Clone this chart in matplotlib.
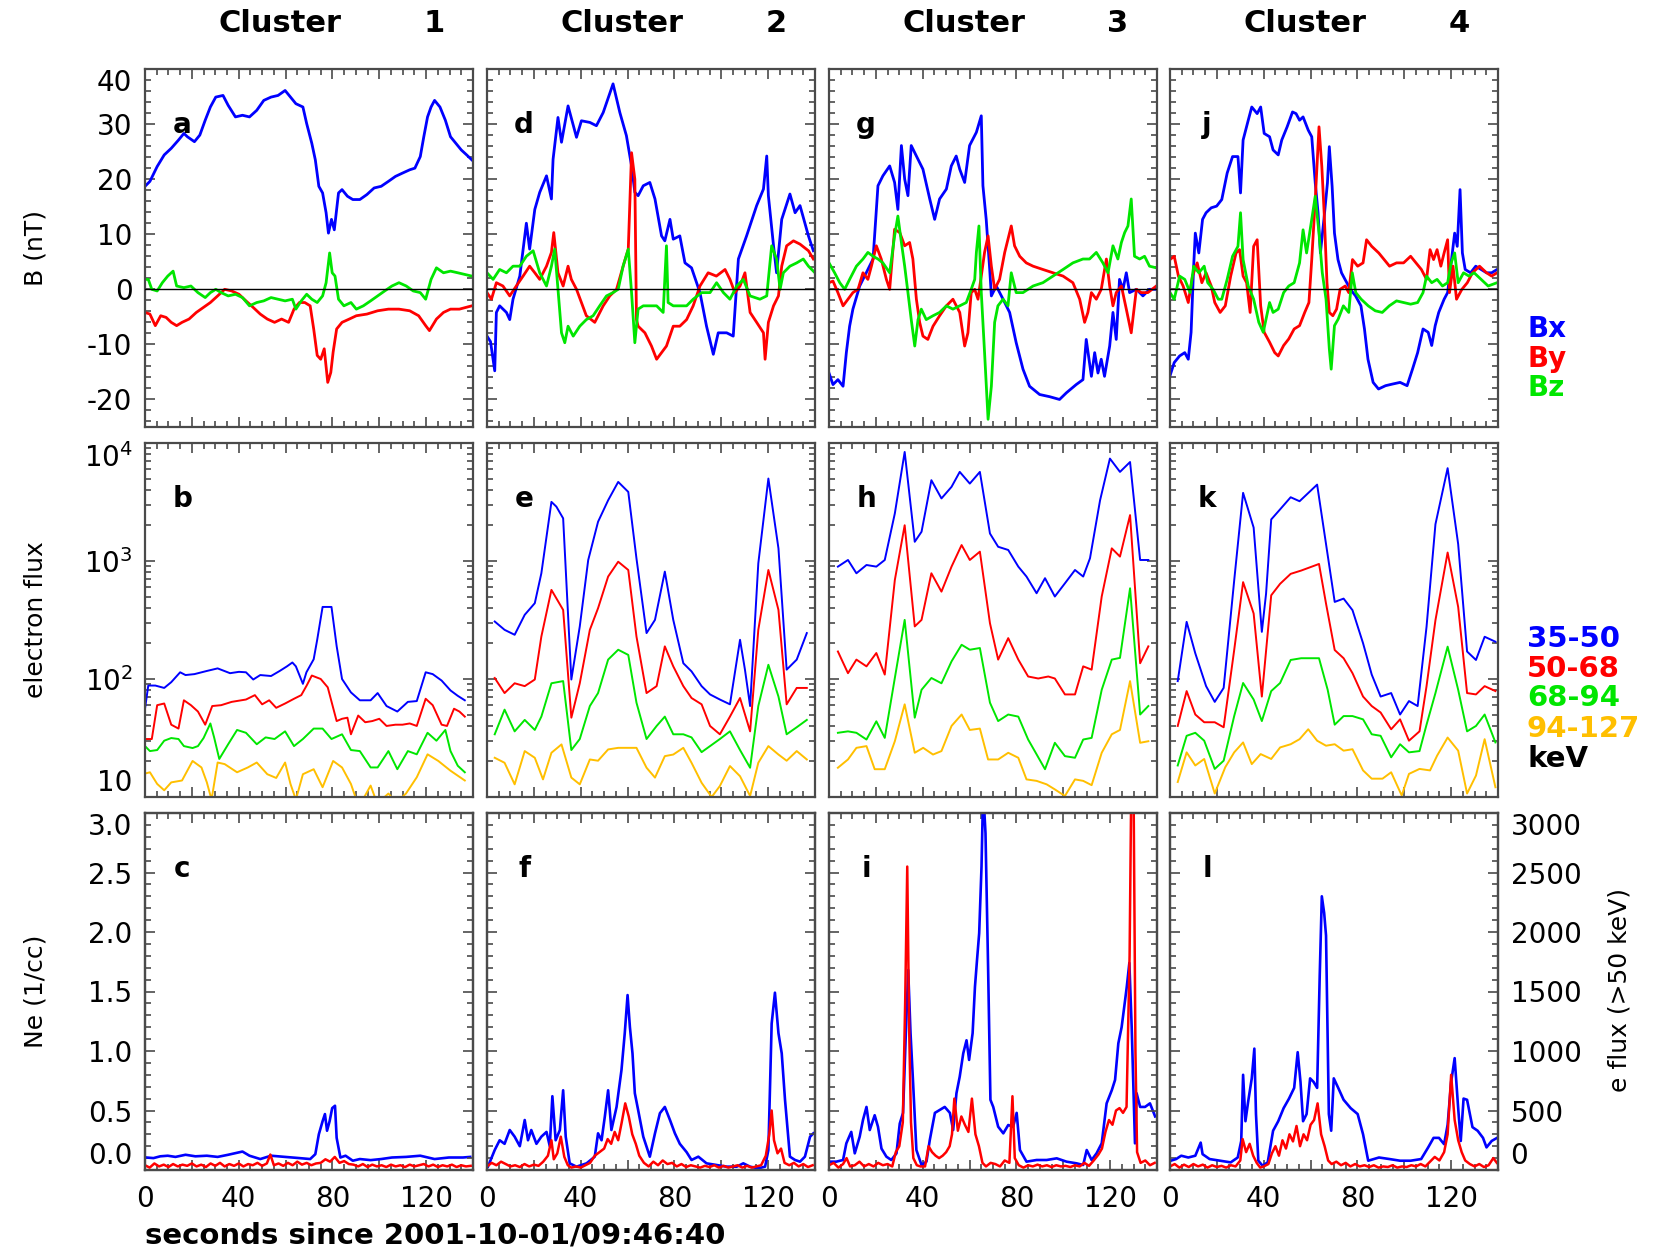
import matplotlib
matplotlib.use("Agg")
import matplotlib.pyplot as plt
from matplotlib.ticker import (MultipleLocator, FixedLocator, FixedFormatter,
                               LogLocator, NullFormatter, FuncFormatter,
                               FormatStrFormatter)

plt.rcParams['font.family'] = ['DejaVu Sans']
plt.rcParams['mathtext.fontset'] = 'dejavusans'

# ---------------------------------------------------------------- data
# time in seconds since 2001-10-01/09:46:40, values as (t, value) pairs

CLUSTERS = ['1', '2', '3', '4']
LETTERS = [['a', 'b', 'c'], ['d', 'e', 'f'], ['g', 'h', 'i'], ['j', 'k', 'l']]
B_NAMES = ['Bx', 'By', 'Bz']
ENERGY_BANDS = ['35-50', '50-68', '68-94', '94-127']

# --- magnetic field (nT)
BX_A = [(0, 18.7), (2.1, 19.6), (5.2, 22.3), (8.2, 24.4), (11.2, 25.6), (14.3, 27.1), (16.6, 28.3), (18.1, 27.7),
        (21.1, 26.8), (23.4, 28.0), (25.7, 30.7), (27.9, 33.1), (30.2, 34.9), (33.3, 35.2), (35.5, 33.4), (38.6, 31.3),
        (41.6, 31.6), (44.6, 31.3), (47.7, 32.5), (50.7, 34.3), (53.8, 34.9), (56.8, 35.2), (59.8, 36.1), (62.1, 34.9),
        (64.4, 33.7), (67.4, 33.1), (69.0, 30.1), (71.2, 26.5), (72.7, 23.5), (74.2, 18.7), (75.8, 17.5), (77.3, 13.9),
        (78.3, 10.2), (79.6, 12.7), (80.8, 10.8), (82.6, 17.5), (84.1, 18.1), (86.4, 16.9), (88.7, 16.3), (91.7, 16.3),
        (94.7, 17.2), (97.8, 18.4), (100.8, 18.7), (103.9, 19.6), (106.9, 20.5), (109.9, 21.1), (113.0, 21.7),
        (115.2, 22.0), (117.5, 24.1), (119.0, 27.7), (120.6, 31.3), (122.1, 33.1), (123.6, 34.3), (125.9, 33.1),
        (128.2, 30.7), (130.4, 27.7), (132.7, 26.5), (135.0, 25.3), (137.3, 24.4), (139.5, 23.5)]
BY_A = [(0, -4.2), (2.1, -4.5), (4.4, -6.6), (6.7, -4.8), (9.0, -5.1), (11.2, -6.0), (13.5, -6.6), (15.8, -6.0),
        (18.8, -5.4), (21.9, -4.2), (24.9, -3.3), (27.9, -2.4), (31.0, -1.2), (34.0, 0.0), (37.0, -0.3), (40.1, -0.9),
        (43.1, -2.1), (46.2, -3.3), (49.2, -4.5), (52.2, -5.4), (55.3, -6.0), (58.3, -5.4), (61.3, -6.0), (63.6, -3.6),
        (65.9, -2.4), (68.2, -2.4), (70.5, -3.0), (72.0, -7.2), (73.5, -12.0), (75.0, -12.7), (76.5, -10.8),
        (78.0, -16.9), (79.3, -15.1), (80.3, -11.4), (81.8, -7.2), (84.1, -6.0), (87.2, -5.4), (90.2, -4.8),
        (94.7, -4.5), (99.3, -3.9), (103.9, -3.6), (108.4, -3.6), (113.0, -3.9), (116.8, -4.8), (119.8, -6.6),
        (121.4, -7.5), (124.4, -5.4), (127.4, -4.2), (130.4, -3.6), (134.2, -3.6), (139.5, -3.0)]
BZ_A = [(0, 1.8), (1.4, 1.8), (2.9, 0.0), (5.2, -0.3), (7.4, 1.2), (9.7, 2.4), (12.0, 3.3), (13.5, 0.6), (16.6, 0.3),
        (19.6, 0.6), (22.6, -0.6), (25.7, -1.5), (27.9, -0.6), (30.2, 0.0), (32.5, -0.6), (35.5, -1.2), (38.6, -0.9),
        (41.6, -1.5), (44.6, -3.0), (47.7, -2.4), (50.7, -2.1), (53.8, -1.5), (56.8, -1.8), (59.8, -2.1), (62.9, -1.8),
        (64.4, -3.6), (66.7, -2.1), (69.0, -0.9), (71.2, -1.8), (73.5, -2.4), (75.8, -1.2), (77.3, 1.2), (78.8, 6.6),
        (79.9, 3.0), (81.1, 2.4), (82.6, -1.8), (84.9, -3.0), (87.9, -2.4), (90.2, -3.6), (93.2, -3.0), (96.3, -2.1),
        (99.3, -1.2), (102.3, -0.3), (105.4, 0.6), (108.4, 1.2), (111.5, 0.6), (114.5, -0.3), (117.5, -0.6),
        (119.8, -1.8), (122.1, 1.8), (124.4, 3.9), (127.4, 3.0), (130.4, 3.3), (133.5, 3.0), (136.5, 2.7), (139.5, 2.4)]

BX_D = [(0, -8.5), (1.5, -9.5), (3.3, -14.8), (4.0, -4.2), (5.4, -3.0), (8.3, -4.2), (9.7, -5.5), (11.1, -1.8),
        (14.0, 2.4), (16.8, 12.0), (18.2, 7.3), (20.4, 14.5), (22.5, 17.6), (25.4, 20.6), (27.5, 16.4), (28.2, 23.6),
        (30.3, 31.2), (31.8, 26.7), (34.6, 33.3), (38.2, 27.6), (40.3, 30.6), (43.9, 30.3), (46.7, 29.7), (49.6, 32.1),
        (53.8, 37.3), (56.7, 32.1), (59.5, 27.9), (61.7, 22.4), (63.1, 17.6), (64.5, 17.0), (66.7, 18.8), (69.5, 19.4),
        (71.7, 16.4), (74.5, 9.7), (75.9, 8.8), (78.1, 12.7), (79.5, 9.1), (82.3, 9.7), (84.5, 4.8), (87.3, 3.9),
        (90.9, -0.6), (93.7, -6.7), (96.6, -11.8), (98.7, -7.9), (102.3, -7.9), (105.1, -8.5), (107.3, 5.5),
        (110.8, 9.7), (115.1, 15.2), (118.0, 18.2), (119.4, 24.2), (120.1, 17.0), (122.3, 7.9), (123.6, 3.0),
        (125.8, 12.7), (129.3, 17.3), (131.5, 13.9), (133.6, 15.2), (137.2, 9.7), (139.3, 7.0)]
BY_D = [(0, -0.6), (1.9, -1.8), (4.0, 1.2), (6.8, 0.6), (9.7, -1.2), (12.5, 0.6), (15.4, 2.4), (18.2, 4.2),
        (20.4, 3.0), (22.5, 1.8), (25.4, 4.2), (27.5, 6.7), (28.5, 10.3), (30.3, 3.0), (32.5, 0.6), (34.6, 4.2),
        (36.0, 1.8), (38.2, 0.0), (40.3, -2.4), (42.4, -4.8), (46.0, -6.0), (49.6, -3.0), (52.4, -1.2), (55.3, 0.0),
        (58.1, 4.2), (60.3, 7.3), (61.7, 24.8), (63.1, 20.0), (63.8, -5.5), (64.5, -6.7), (67.4, -7.9), (70.2, -10.3),
        (72.4, -12.7), (74.5, -11.5), (76.6, -10.3), (79.5, -6.7), (82.3, -6.7), (85.2, -5.5), (88.0, -3.0),
        (90.9, 0.6), (94.4, 3.0), (97.9, 2.4), (101.6, 3.6), (103.7, 1.8), (105.8, -0.6), (108.0, 0.6), (110.1, 3.0),
        (112.3, -4.2), (115.1, -6.0), (118.0, -7.9), (118.7, -12.7), (120.1, -6.0), (122.3, -3.0), (124.4, -1.2),
        (125.8, 4.2), (127.9, 7.9), (130.8, 8.8), (133.6, 8.2), (137.2, 7.0), (139.3, 5.5)]
BZ_D = [(0, 3.0), (2.6, 1.8), (5.4, 3.6), (8.3, 3.0), (11.1, 4.2), (14.0, 4.2), (16.8, 6.0), (19.7, 7.0), (22.5, 3.0),
        (25.4, 0.6), (27.5, 4.2), (28.9, 7.3), (30.3, 0.0), (31.8, -7.9), (33.2, -9.7), (34.6, -6.7), (36.8, -8.5),
        (39.6, -6.7), (42.4, -5.5), (45.3, -4.8), (48.1, -3.0), (51.0, -1.2), (53.8, -0.6), (56.0, 0.0), (58.1, 4.2),
        (60.3, 7.3), (61.7, -0.6), (63.1, -9.7), (64.5, -3.6), (66.7, -3.0), (69.5, -3.0), (72.4, -3.0), (75.2, -4.2),
        (76.6, 7.9), (77.3, -2.4), (79.5, -3.0), (82.3, -3.0), (85.2, -3.0), (88.0, -1.8), (91.6, -0.6), (95.2, -0.6),
        (98.0, 1.2), (100.9, -0.6), (103.7, -1.8), (106.6, 0.6), (109.4, 1.8), (112.3, -1.2), (116.5, -1.8),
        (119.4, -1.2), (121.5, 7.9), (123.6, 5.5), (125.1, 0.0), (126.5, 3.0), (129.3, 4.2), (132.2, 4.8),
        (135.0, 5.5), (137.2, 4.2), (140.0, 3.0)]

BX_G = [(0, -15.2), (1.7, -17.3), (3.8, -16.4), (6.0, -17.6), (7.4, -11.5), (8.8, -6.7), (10.2, -3.6), (13.1, 0.6),
        (15.9, 3.0), (18.8, 5.5), (20.9, 18.8), (23.0, 20.6), (25.9, 22.4), (28.0, 19.4), (29.4, 14.5), (30.9, 26.1),
        (32.3, 20.0), (33.7, 17.0), (35.1, 26.1), (37.3, 24.2), (40.1, 21.8), (43.0, 16.4), (45.1, 12.7), (47.2, 16.4),
        (50.1, 18.2), (52.2, 22.4), (54.3, 24.2), (55.8, 21.8), (57.9, 19.4), (60.0, 26.1), (62.9, 28.5), (65.0, 31.5),
        (65.7, 18.8), (67.1, 12.7), (68.6, 3.6), (69.3, -1.2), (71.4, 0.6), (74.3, -1.8), (77.1, -4.2), (79.9, -9.7),
        (82.8, -14.5), (85.6, -17.6), (89.9, -19.1), (94.2, -19.5), (98.4, -20.0), (101.3, -18.8), (105.5, -17.3),
        (108.4, -16.4), (109.8, -9.1), (112.0, -15.8), (113.4, -11.5), (114.8, -15.2), (116.2, -12.7),
        (117.6, -15.8), (119.8, -10.3), (121.2, -4.2), (122.6, -9.1), (124.0, 1.8), (125.5, 0.0), (126.9, 3.0),
        (128.3, -0.6), (131.2, 0.0), (134.0, -1.2), (136.8, 0.0), (139.7, 0.0)]
BY_G = [(0, 1.2), (1.7, 1.5), (3.8, -0.6), (6.0, -3.0), (8.1, -1.8), (10.2, -0.6), (12.4, 0.0), (14.5, 3.0),
        (16.6, 1.8), (18.1, 4.2), (20.2, 7.9), (22.3, 5.5), (24.5, 1.8), (25.9, 0.0), (28.0, 10.9), (30.2, 10.3),
        (32.3, 7.9), (34.4, 8.5), (35.8, 5.5), (37.3, -1.8), (38.7, -6.0), (40.1, -8.5), (42.2, -9.1), (44.4, -6.7),
        (47.2, -4.8), (50.1, -3.0), (52.9, -1.8), (55.8, -4.2), (57.9, -10.3), (59.3, -7.9), (60.7, -0.6),
        (62.2, 0.0), (63.6, -1.8), (65.0, 2.4), (66.4, 6.7), (67.9, 9.7), (69.3, 4.2), (70.7, 0.0), (72.8, 1.8),
        (75.0, 6.7), (77.8, 11.5), (79.2, 7.9), (81.4, 6.0), (84.2, 4.8), (87.1, 4.2), (91.3, 3.6), (95.6, 3.0),
        (99.9, 2.4), (104.1, 1.2), (107.0, -1.8), (109.1, -6.0), (110.5, -4.2), (112.0, -0.6), (114.1, -1.8),
        (116.2, 0.0), (118.4, 5.5), (119.8, 0.6), (121.2, -3.0), (122.6, -0.6), (124.8, 0.6), (126.9, -3.6),
        (129.0, -7.9), (131.2, 0.0), (133.3, -0.6), (136.1, -0.6), (139.7, 0.6)]
BZ_G = [(0, 4.8), (2.4, 3.0), (4.6, 1.2), (6.7, 0.0), (8.8, 1.8), (11.7, 4.2), (14.5, 5.5), (16.6, 6.7), (18.8, 6.0),
        (20.9, 5.5), (23.0, 4.8), (25.9, 3.0), (28.0, 9.7), (29.4, 13.3), (30.9, 8.5), (32.3, 4.2), (33.7, -0.6),
        (35.1, -5.5), (36.6, -10.3), (38.0, -5.5), (39.4, -3.6), (41.5, -5.5), (44.4, -4.8), (47.2, -4.2),
        (50.1, -3.0), (52.9, -3.6), (55.8, -3.0), (58.6, -2.4), (60.7, 0.0), (62.2, 1.8), (62.9, 6.7), (64.0, 11.5),
        (65.0, -0.6), (66.4, -11.5), (67.9, -23.6), (69.3, -17.6), (70.7, -6.0), (72.1, -3.0), (74.3, -1.8),
        (76.4, -3.0), (77.8, 3.0), (79.9, -0.6), (82.8, -0.6), (87.1, 0.6), (91.3, 1.2), (95.6, 2.4), (99.9, 3.6),
        (104.1, 4.8), (108.4, 5.5), (111.2, 5.5), (114.1, 6.7), (116.9, 4.8), (119.1, 3.0), (121.2, 7.9),
        (123.3, 5.5), (124.8, 8.5), (126.2, 10.3), (127.6, 11.5), (129.0, 16.4), (130.4, 6.0), (132.6, 5.5),
        (134.7, 6.0), (136.8, 4.2), (139.7, 3.9)]

BX_J = [(0, -15.7), (1.8, -13.3), (4.1, -12.1), (6.3, -11.5), (7.8, -12.7), (9.0, -7.8), (10.1, 4.2), (10.8, 10.2),
        (12.3, 6.6), (13.9, 12.7), (15.4, 13.9), (17.6, 14.8), (19.9, 15.1), (22.1, 16.3), (24.4, 21.1), (26.7, 24.1),
        (29.0, 24.1), (30.1, 17.5), (31.2, 27.1), (33.4, 30.7), (34.9, 33.1), (37.2, 31.9), (38.7, 33.1), (40.2, 28.3),
        (42.5, 27.7), (44.0, 25.3), (46.2, 24.4), (47.7, 27.1), (50.0, 29.5), (52.3, 32.2), (53.8, 31.9), (55.3, 30.7),
        (56.8, 31.3), (59.0, 28.9), (60.5, 27.7), (62.0, 19.3), (63.2, 13.9), (64.2, 6.6), (65.7, 12.7), (67.2, 19.3),
        (68.0, 25.9), (69.2, 18.7), (70.2, 10.2), (71.7, 5.4), (73.2, 3.0), (74.7, 1.8), (77.0, 0.0), (79.2, -1.2),
        (81.5, -3.0), (83.0, -7.2), (84.5, -12.7), (86.7, -16.9), (89.0, -18.1), (92.0, -17.5), (95.0, -17.2),
        (98.2, -16.9), (101.2, -17.5), (103.5, -14.5), (105.7, -11.5), (108.0, -7.2), (110.2, -7.8), (111.7, -10.2),
        (113.2, -6.6), (114.7, -4.2), (117.0, -1.8), (118.5, -0.6), (120.0, 4.8), (121.5, 10.2), (122.6, 7.8),
        (123.8, 18.1), (124.8, 6.6), (126.0, 3.6), (128.3, 3.0), (130.5, 4.2), (132.8, 3.6), (135.1, 3.0),
        (137.3, 3.0), (139.6, 3.6)]
BY_J = [(0, 5.4), (1.8, 6.0), (3.6, 2.4), (5.6, 0.6), (7.8, -2.4), (9.6, 2.4), (11.6, 4.8), (13.6, 1.2), (15.4, 3.0),
        (17.6, 0.6), (19.1, -2.4), (21.4, -4.2), (23.6, -3.0), (25.9, 2.4), (28.2, 6.6), (29.7, 7.2), (31.2, 2.4),
        (32.7, 1.2), (34.2, -4.2), (35.7, 7.8), (37.2, 9.0), (38.7, -3.0), (40.2, -7.8), (42.5, -9.6), (44.7, -11.5),
        (46.2, -12.1), (48.5, -10.2), (50.7, -9.0), (53.0, -7.2), (55.3, -6.6), (57.5, -4.2), (59.3, -2.4),
        (60.5, 5.4), (62.0, 16.3), (63.6, 29.5), (64.8, 22.3), (65.8, 13.9), (67.0, 1.2), (68.0, -4.2), (69.5, -4.8),
        (71.1, -3.6), (72.6, 0.0), (74.8, 0.6), (76.3, -0.6), (77.9, 5.4), (80.1, 4.2), (82.4, 4.8), (83.9, 9.0),
        (86.1, 7.8), (89.1, 6.6), (91.4, 5.4), (93.7, 4.2), (96.7, 4.8), (99.7, 4.8), (102.7, 6.0), (105.0, 4.8),
        (107.3, 3.6), (109.5, 1.8), (111.0, 7.2), (112.5, 5.4), (114.0, 7.2), (115.6, 4.2), (117.0, 6.6),
        (118.5, 9.0), (119.3, -0.6), (120.8, 4.2), (122.3, -1.8), (124.6, 0.0), (126.9, 1.2), (129.1, 3.0),
        (132.1, 4.2), (135.1, 3.0), (137.3, 2.4), (139.6, 3.0)]
BZ_J = [(0, -0.6), (1.8, -1.8), (4.1, 2.4), (6.3, 1.8), (8.6, -0.6), (10.1, 4.2), (12.3, 3.0), (14.6, 4.2),
        (16.1, 1.2), (18.4, 0.0), (20.6, -1.8), (22.1, -1.8), (24.4, 1.8), (26.7, 6.0), (29.0, 7.8), (30.1, 13.9),
        (31.2, 5.4), (33.4, 0.6), (35.7, -1.8), (37.9, -6.0), (39.8, -7.8), (41.0, -5.4), (42.5, -2.4), (44.0, -4.2),
        (46.2, -3.6), (48.5, -0.6), (50.7, 0.6), (53.0, 1.2), (55.3, 4.8), (56.8, 10.8), (58.3, 6.6), (60.5, 12.7),
        (62.0, 16.9), (63.6, 10.2), (65.0, 3.0), (66.6, -1.8), (68.0, -10.8), (68.8, -14.5), (70.2, -6.6),
        (71.8, -5.4), (74.0, -3.0), (76.3, -4.2), (77.8, 3.0), (79.3, -0.6), (81.6, -1.8), (84.6, -3.0),
        (87.6, -3.9), (90.6, -4.2), (93.6, -3.0), (96.7, -2.1), (99.7, -2.4), (102.7, -2.7), (105.7, -2.4),
        (108.0, -0.6), (109.5, 2.4), (111.7, 1.2), (114.0, 1.8), (116.3, 0.6), (118.5, 1.2), (120.0, 4.8),
        (121.5, 6.6), (123.0, 1.2), (125.3, 3.0), (127.6, 2.4), (129.8, 3.0), (132.8, 1.8), (135.8, 0.6),
        (139.6, 1.2)]

# --- electron flux per energy band (35-50, 50-68, 68-94, 94-127 keV)
E1_B = [(0, 56), (1.4, 88), (4.4, 88), (8.2, 84), (11.2, 94), (15.0, 114), (17.3, 108), (21.1, 110), (26.4, 117),
        (31.0, 123), (36.3, 112), (40.1, 115), (43.1, 114), (46.2, 99), (49.2, 108), (53.8, 106), (57.5, 117),
        (60.6, 128), (62.9, 138), (64.4, 128), (67.4, 91), (68.9, 114), (72.0, 147), (73.5, 215), (75.8, 408),
        (79.6, 408), (81.8, 190), (84.1, 100), (87.9, 77), (91.7, 66), (96.3, 66), (99.3, 76), (103.1, 59),
        (107.7, 53), (112.2, 64), (116.0, 65), (119.8, 114), (122.8, 110), (126.6, 97), (130.4, 80), (133.5, 72),
        (136.5, 66)]
E2_B = [(0, 31), (2.9, 31), (5.2, 60), (8.2, 62), (11.2, 41), (14.3, 38), (16.6, 66), (19.6, 60), (22.6, 53),
        (25.7, 41), (28.7, 59), (32.5, 60), (37.0, 64), (43.1, 67), (46.9, 73), (50.0, 61), (53.0, 66), (56.0, 57),
        (59.8, 62), (63.6, 68), (66.7, 73), (69.0, 88), (71.2, 107), (75.0, 100), (78.0, 85), (81.8, 44), (84.1, 46),
        (86.4, 47), (87.9, 34), (91.0, 49), (94.0, 43), (97.0, 44), (100.0, 46), (103.1, 40), (106.9, 41),
        (109.9, 41), (113.0, 42), (116.0, 40), (119.8, 68), (122.8, 60), (126.6, 41), (128.9, 40), (131.9, 56),
        (134.2, 53), (136.5, 48)]
E3_B = [(0, 27), (2.1, 24.5), (5.2, 25), (8.2, 30), (11.2, 31.6), (14.3, 31), (16.6, 27), (20.3, 26), (22.6, 27),
        (25.0, 31.6), (27.9, 42), (29.5, 32), (31.7, 21), (35.5, 28), (39.3, 37), (43.1, 35), (47.7, 28), (51.5, 32),
        (55.3, 31), (59.8, 36), (63.6, 27), (67.4, 31), (72.0, 38), (75.8, 38), (79.6, 31), (84.1, 34), (87.9, 25),
        (91.7, 24.5), (96.3, 17.8), (99.3, 17.8), (103.9, 24.5), (107.7, 17.2), (112.2, 24.5), (116.0, 23),
        (120.6, 35), (124.4, 30), (128.2, 37), (130.4, 24.5), (133.5, 18.4), (136.5, 16.2)]
E4_B = [(0, 15.8), (2.1, 16.2), (5.2, 12.9), (8.2, 11.4), (11.2, 13.3), (15.8, 13.8), (20.3, 20.2), (24.1, 17.8),
        (26.4, 13.3), (28.4, 9.5), (31.0, 19.6), (34.0, 19.0), (39.3, 16.2), (43.9, 17.8), (47.7, 19.6), (52.2, 15.6),
        (56.0, 14.5), (59.8, 19.6), (62.1, 12.9), (64.4, 9.5), (67.4, 15.6), (72.0, 17.2), (75.8, 12.1), (80.3, 20.2),
        (84.1, 17.8), (87.9, 12.9), (90.2, 9.5), (93.0, 9.5), (96.3, 12.5), (98.5, 9.5), (101.0, 9.5), (103.9, 10.7),
        (106.1, 9.5), (108.5, 9.5), (111.4, 10.7), (116.0, 14.7), (120.6, 23), (125.2, 20.2), (130.4, 16.7),
        (136.5, 13.8)]

E1_E = [(3.3, 307), (7.5, 261), (11.8, 237), (16.1, 350), (20.4, 439), (23.2, 787), (27.5, 3170), (29.6, 2890),
        (32.5, 2300), (36.0, 99), (39.6, 279), (43.2, 1019), (47.4, 2150), (51.7, 3270), (56.0, 4680), (60.3, 3850),
        (63.8, 1050), (68.1, 245), (71.7, 317), (75.9, 813), (79.5, 317), (83.8, 136), (87.3, 116), (91.6, 87),
        (95.2, 74), (99.4, 67), (103.7, 61), (108.0, 215), (110.1, 120), (112.3, 59), (115.8, 955), (120.1, 5000),
        (124.4, 1280), (127.9, 120), (132.2, 146), (136.5, 245)]
E2_E = [(3.3, 102), (7.5, 76), (11.8, 92), (16.1, 87), (20.4, 99), (23.2, 229), (27.5, 569), (32.5, 385), (36.0, 47),
        (39.6, 92), (43.9, 261), (47.4, 398), (51.7, 738), (56.0, 986), (60.3, 839), (63.8, 229), (68.1, 76),
        (72.4, 87), (75.9, 189), (79.5, 128), (83.8, 87), (87.3, 69), (91.6, 61), (95.2, 40), (99.4, 34), (103.7, 48),
        (108.0, 69), (112.3, 36), (115.8, 261), (120.1, 839), (124.4, 385), (127.9, 61), (132.2, 84), (136.5, 84)]
E3_E = [(3.3, 34), (7.5, 55), (11.8, 36), (16.1, 45), (20.4, 37), (23.2, 48), (27.5, 92), (32.5, 96), (36.0, 25),
        (39.6, 31), (43.9, 59), (47.4, 76), (51.7, 146), (56.0, 177), (60.3, 160), (63.8, 63), (68.1, 31), (72.4, 40),
        (75.9, 48), (79.5, 34), (83.8, 34), (87.3, 32), (91.6, 24), (95.2, 27), (99.4, 31), (103.7, 36), (108.0, 25),
        (112.3, 17.7), (115.8, 59), (120.1, 132), (124.4, 71), (127.9, 34), (132.2, 39), (136.5, 45)]
E4_E = [(3.3, 21.5), (7.5, 19.5), (11.8, 12.8), (16.1, 24.5), (20.4, 21.5), (23.9, 14.1), (27.5, 23.7), (31.8, 27.9),
        (36.0, 14.6), (39.6, 12.8), (43.9, 20.8), (47.4, 20.3), (51.7, 25.3), (56.0, 26.1), (60.3, 26.1),
        (63.8, 26.1), (68.1, 17.7), (71.7, 14.6), (75.9, 22.2), (79.5, 22.9), (83.8, 26.1), (87.3, 19.5),
        (91.6, 13.2), (95.9, 10.0), (99.4, 12.4), (103.7, 18.3), (108.0, 15.0), (112.3, 10.2), (115.8, 19.5),
        (120.1, 27.0), (124.4, 22.9), (127.9, 20.3), (132.2, 24.5), (136.5, 20.8)]

E1_H = [(3.8, 896), (8.1, 1020), (11.7, 787), (16.0, 925), (20.2, 896), (23.8, 1020), (28.1, 2530), (32.3, 8400),
        (36.6, 1455), (39.5, 1770), (43.7, 4840), (48.0, 3390), (52.3, 4250), (55.8, 5690), (60.1, 4530),
        (64.4, 5690), (68.7, 1710), (72.2, 1320), (76.5, 1240), (80.8, 896), (84.3, 738), (88.6, 533), (92.2, 715),
        (96.4, 500), (100.7, 647), (105.0, 839), (108.5, 738), (111.4, 1055), (115.7, 3270), (119.9, 7380),
        (124.2, 5690), (128.5, 6900), (132.8, 1020), (136.3, 1020)]
E2_H = [(3.8, 171), (8.1, 112), (11.7, 146), (16.0, 128), (20.2, 166), (23.8, 109), (28.1, 690), (32.3, 2010),
        (36.6, 279), (39.5, 317), (43.7, 787), (48.0, 550), (52.3, 896), (56.6, 1365), (60.1, 1020), (64.4, 1200),
        (68.7, 297), (72.2, 146), (76.5, 222), (80.8, 146), (85.0, 105), (89.3, 101), (93.6, 105), (96.4, 101),
        (100.7, 74), (105.0, 74), (108.5, 128), (112.1, 120), (116.4, 500), (120.7, 1280), (124.2, 1090),
        (128.5, 2450), (132.8, 136), (136.3, 189)]
E3_H = [(3.8, 35), (8.1, 36), (11.7, 35), (16.0, 30.7), (20.2, 43.8), (23.8, 31.7), (28.1, 102), (32.3, 317),
        (36.6, 47), (39.5, 81), (43.7, 102), (48.0, 92), (52.3, 141), (56.6, 195), (60.1, 177), (64.4, 183),
        (68.7, 63), (72.2, 44), (76.5, 50), (80.8, 48), (85.0, 30.7), (88.6, 23), (92.2, 17.2), (96.4, 28.8),
        (100.7, 22.2), (105.0, 21.5), (108.5, 30.7), (112.1, 31.7), (116.4, 81), (120.7, 146), (124.2, 151),
        (128.5, 587), (132.8, 50), (136.3, 59)]
E4_H = [(3.8, 17.7), (8.1, 20.8), (11.7, 26.1), (16.0, 27.0), (19.5, 17.2), (23.8, 17.2), (28.1, 29.7), (32.3, 61),
        (36.6, 23.7), (40.2, 26.1), (44.4, 22.9), (48.0, 24.5), (52.3, 40), (56.6, 50), (60.1, 37), (64.4, 38),
        (67.9, 20.8), (72.2, 20.8), (76.5, 23.7), (80.8, 21.5), (84.3, 14.1), (88.6, 13.7), (92.9, 12.8),
        (96.4, 11.6), (100.7, 10.2), (105.0, 14.1), (108.5, 13.7), (112.1, 12.6), (116.4, 23.7), (120.7, 34),
        (124.2, 37), (128.5, 96), (132.8, 28.8), (136.3, 29.7)]

E1_K = [(3.3, 96), (7.1, 305), (10.8, 165), (15.4, 87), (19.1, 64), (22.9, 84), (27.4, 684), (31.2, 3780),
        (35.7, 1920), (39.2, 251), (41.0, 528), (43.2, 2250), (47.0, 2740), (51.5, 3470), (55.3, 3210), (59.8, 3900),
        (62.8, 4440), (66.6, 1390), (70.3, 450), (74.1, 480), (77.9, 383), (82.4, 201), (86.1, 109), (89.9, 71),
        (94.4, 76), (98.2, 50), (102.0, 65), (105.7, 59), (109.5, 277), (113.3, 2050), (118.5, 6120), (123.0, 1390),
        (126.8, 171), (130.6, 145), (134.3, 228), (138.9, 207)]
E2_K = [(3.3, 40), (7.1, 79), (10.8, 50), (14.6, 43), (19.1, 43), (22.9, 39), (27.4, 176), (31.2, 662), (35.7, 359),
        (39.2, 71), (43.2, 512), (47.0, 641), (51.5, 778), (56.0, 830), (59.8, 885), (63.6, 944), (66.6, 435),
        (70.3, 176), (74.1, 150), (77.9, 112), (82.4, 71), (86.1, 59), (89.9, 52), (94.4, 37.5), (98.2, 45.5),
        (102.0, 30), (106.5, 36), (109.5, 87), (113.3, 315), (118.5, 1180), (123.0, 408), (126.8, 76), (130.6, 74),
        (134.3, 87), (138.9, 79)]
E3_K = [(3.3, 18.5), (7.1, 33), (10.8, 35), (14.6, 30), (19.1, 17.3), (22.9, 20.3), (27.4, 48.5), (31.2, 92.5),
        (35.7, 67), (39.2, 44), (43.2, 79), (47.0, 92.5), (51.5, 145), (56.0, 150), (59.8, 150), (63.6, 150),
        (67.3, 81), (70.3, 41), (74.1, 48.5), (77.9, 48.5), (82.4, 45.5), (86.1, 34), (89.9, 33), (94.4, 21.7),
        (98.2, 28), (102.0, 23.9), (106.5, 24.5), (109.5, 41), (113.3, 76), (118.5, 188), (123.0, 81), (126.8, 36),
        (130.6, 40), (134.3, 50), (138.9, 29)]
E4_K = [(3.3, 13.4), (7.1, 23.9), (10.8, 18.5), (14.6, 21), (19.1, 10.7), (23.6, 17.9), (27.4, 23.9), (31.2, 29),
        (34.9, 19), (38.7, 23.1), (43.2, 21), (47.0, 26.3), (51.5, 28), (55.3, 30.9), (59.0, 37.5), (62.8, 30),
        (66.6, 27.2), (70.3, 28), (74.1, 24.7), (77.9, 25.4), (82.4, 16.8), (86.1, 14.3), (90.7, 14.3), (94.4, 16.2),
        (98.9, 10.3), (102.0, 15.7), (106.5, 17.3), (111.0, 16.8), (114.0, 22.4), (118.5, 31.9), (123.0, 24.7),
        (126.8, 10.7), (130.6, 15.2), (134.3, 30.9), (138.9, 12.1)]

# --- electron density Ne (1/cc)
NE_C = [(0.6, 0.105), (3.6, 0.10), (6.5, 0.115), (9.7, 0.12), (13.0, 0.11), (17.3, 0.128), (21.5, 0.115),
        (26.4, 0.12), (31.0, 0.11), (35.5, 0.128), (41.6, 0.155), (44.6, 0.12), (49.2, 0.092), (53.8, 0.12),
        (59.8, 0.11), (65.9, 0.10), (70.5, 0.092), (72.7, 0.133), (74.2, 0.30), (75.8, 0.41), (76.8, 0.47),
        (77.7, 0.33), (78.8, 0.41), (79.9, 0.52), (81.1, 0.54), (81.8, 0.27), (83.4, 0.105), (85.6, 0.12),
        (88.7, 0.078), (91.7, 0.092), (96.3, 0.083), (100.8, 0.092), (105.4, 0.105), (111.4, 0.11), (117.5, 0.12),
        (123.6, 0.092), (129.7, 0.105), (135.7, 0.105), (138.8, 0.11)]
NE_F = [(0.4, 0.028), (3.3, 0.168), (5.4, 0.25), (7.5, 0.22), (9.7, 0.336), (11.8, 0.28), (14.0, 0.20), (16.1, 0.42),
        (17.5, 0.25), (18.9, 0.336), (21.1, 0.22), (23.2, 0.28), (25.4, 0.32), (26.8, 0.20), (27.9, 0.62),
        (29.3, 0.25), (31.1, 0.336), (32.5, 0.67), (33.6, 0.28), (35.3, 0.056), (38.2, 0.028), (42.5, 0.056),
        (46.0, 0.112), (47.4, 0.308), (48.9, 0.25), (50.3, 0.45), (51.7, 0.67), (53.1, 0.336), (55.3, 0.53),
        (57.4, 0.84), (58.8, 1.15), (60.0, 1.47), (61.0, 1.20), (62.1, 0.98), (63.1, 0.645), (64.5, 0.505),
        (66.7, 0.28), (69.5, 0.112), (71.7, 0.308), (73.8, 0.477), (75.9, 0.53), (78.1, 0.42), (80.2, 0.308),
        (82.3, 0.22), (85.2, 0.15), (87.3, 0.084), (90.2, 0.112), (93.7, 0.056), (98.0, 0.042), (102.3, 0.028),
        (106.6, 0.028), (109.4, 0.056), (112.3, 0.028), (115.8, 0.014), (118.7, 0.028), (120.1, 0.168),
        (121.5, 1.23), (122.9, 1.49), (124.4, 1.15), (125.8, 0.98), (127.2, 0.59), (129.3, 0.112), (131.5, 0.084),
        (133.6, 0.07), (135.7, 0.112), (137.9, 0.28), (139.3, 0.308)]
NE_I = [(0.3, 0.07), (3.1, 0.07), (6.0, 0.084), (7.4, 0.224), (9.5, 0.32), (11.0, 0.14), (13.1, 0.28), (14.5, 0.42),
        (16.0, 0.53), (17.4, 0.336), (19.5, 0.46), (20.9, 0.364), (22.4, 0.18), (24.5, 0.112), (26.6, 0.084),
        (28.8, 0.14), (30.2, 0.39), (31.6, 0.48), (32.8, 1.15), (33.8, 1.68), (34.8, 1.15), (35.9, 0.73),
        (37.3, 0.168), (39.5, 0.042), (41.6, 0.07), (43.0, 0.25), (45.2, 0.48), (47.3, 0.505), (49.4, 0.53),
        (51.6, 0.48), (53.0, 0.336), (54.4, 0.645), (55.8, 0.785), (57.3, 0.98), (58.7, 1.09), (59.8, 0.925),
        (61.3, 1.15), (62.3, 1.54), (63.2, 1.77), (64.1, 1.99), (65.1, 2.55), (65.8, 3.2), (66.8, 2.83), (67.9, 1.71),
        (68.9, 0.59), (70.1, 0.53), (72.2, 0.364), (74.4, 0.308), (76.5, 0.378), (78.6, 0.364), (80.1, 0.48),
        (81.5, 0.168), (84.3, 0.07), (88.6, 0.084), (92.9, 0.084), (97.2, 0.098), (101.4, 0.07), (105.7, 0.056),
        (108.5, 0.042), (110.0, 0.168), (112.1, 0.084), (114.2, 0.14), (116.4, 0.224), (118.5, 0.56), (120.7, 0.67),
        (122.1, 0.757), (123.5, 1.065), (124.9, 1.2), (126.4, 1.43), (127.1, 1.54), (128.2, 1.74), (129.2, 1.2),
        (130.6, 0.224), (131.3, 0.645), (132.8, 0.53), (134.9, 0.53), (137.0, 0.56), (139.2, 0.45)]
NE_L = [(0.3, 0.078), (2.6, 0.092), (4.8, 0.12), (7.8, 0.105), (10.8, 0.12), (13.1, 0.23), (13.9, 0.133),
        (16.9, 0.092), (21.4, 0.078), (25.9, 0.064), (28.9, 0.105), (30.4, 0.244), (31.2, 0.80), (32.2, 0.41),
        (33.4, 0.58), (34.9, 0.77), (36.0, 1.02), (36.7, 0.47), (37.7, 0.078), (39.5, 0.036), (41.7, 0.064),
        (44.0, 0.33), (46.2, 0.41), (48.5, 0.52), (50.8, 0.60), (53.0, 0.69), (54.5, 0.99), (55.7, 0.74),
        (56.8, 0.41), (58.3, 0.47), (59.8, 0.77), (61.3, 0.74), (62.8, 0.69), (63.9, 1.63), (64.8, 2.30),
        (65.8, 2.16), (66.6, 1.97), (67.8, 0.47), (68.8, 0.33), (69.9, 0.77), (71.8, 0.69), (74.1, 0.59),
        (77.1, 0.52), (80.1, 0.47), (82.4, 0.30), (84.6, 0.078), (89.2, 0.105), (93.7, 0.092), (98.2, 0.078),
        (102.7, 0.078), (107.2, 0.092), (110.2, 0.19), (112.5, 0.27), (114.8, 0.27), (117.0, 0.217), (118.5, 0.38),
        (120.0, 0.74), (121.5, 0.94), (123.0, 0.52), (124.1, 0.244), (125.3, 0.60), (126.8, 0.59), (129.1, 0.36),
        (131.3, 0.33), (133.6, 0.27), (135.1, 0.19), (137.3, 0.244), (139.6, 0.27)]

# --- e flux (>50 keV)
FX_C = [(0, 40), (2, 20), (4, 55), (6, 30), (8, 45), (10, 25), (12, 50), (14, 30), (16, 45), (18, 35), (20, 55),
        (22, 30), (24, 45), (26, 25), (28, 55), (30, 35), (32, 60), (34, 30), (36, 50), (38, 35), (40, 55), (42, 30),
        (44, 50), (46, 40), (48, 60), (50, 35), (52, 55), (53.5, 130), (55, 40), (57, 55), (59, 35), (61, 60),
        (63, 40), (65, 70), (67, 45), (69, 60), (71, 40), (73, 55), (75, 60), (77, 90), (79, 70), (81, 110), (83, 60),
        (85, 75), (87, 50), (89, 45), (91, 30), (93, 50), (95, 25), (97, 45), (99, 30), (101, 40), (103, 25),
        (105, 45), (107, 30), (109, 40), (111, 25), (113, 45), (115, 30), (117, 40), (119, 50), (121, 30), (123, 45),
        (125, 25), (127, 40), (129, 30), (131, 45), (133, 25), (135, 40), (137, 30), (139, 35)]
FX_F = [(0, 30), (2, 60), (4, 40), (6, 70), (8, 50), (10, 30), (12, 40), (14, 25), (16, 50), (18, 30), (20, 45),
        (22, 35), (24, 70), (26, 120), (27.5, 250), (28.5, 90), (30, 140), (31.5, 280), (33, 110), (34.5, 40),
        (36, 20), (38, 30), (40, 20), (42, 40), (44, 60), (46, 120), (48, 150), (50, 180), (51.5, 260), (53, 220),
        (54.5, 320), (56, 250), (57.5, 400), (59, 560), (60.5, 450), (62, 300), (63.5, 220), (65, 120), (67, 60),
        (69, 30), (71, 70), (73, 40), (75, 80), (77, 50), (79, 60), (81, 30), (83, 50), (85, 25), (87, 40), (89, 30),
        (91, 20), (93, 35), (95, 25), (97, 40), (99, 20), (101, 35), (103, 20), (105, 30), (107, 40), (109, 20),
        (111, 35), (113, 20), (115, 30), (117, 40), (119, 120), (120.5, 300), (121.5, 500), (122.5, 250),
        (124, 140), (125.5, 180), (127, 60), (129, 40), (131, 60), (133, 30), (135, 50), (137, 25), (139, 40)]
FX_I = [(0, 40), (2, 60), (4, 20), (6, 50), (7.5, 100), (9, 30), (11, 40), (13, 70), (15, 30), (17, 50), (19, 30),
        (21, 60), (23, 40), (25, 50), (27, 30), (28.5, 150), (30, 200), (31.5, 400), (32.5, 1400), (33.4, 2550),
        (34.2, 1200), (35, 400), (36, 100), (37.5, 40), (39, 30), (41, 30), (42.5, 200), (44, 150), (45.5, 120),
        (47, 100), (48.5, 120), (50, 150), (51.5, 200), (52.5, 300), (53.5, 600), (55, 330), (56.5, 450), (58, 380),
        (59.5, 320), (61, 600), (62.5, 300), (64, 200), (65.5, 60), (67, 30), (69, 60), (71, 50), (73, 30), (75, 80),
        (77, 60), (78.3, 620), (79.3, 100), (81, 40), (83, 20), (85, 40), (87, 30), (89, 45), (91, 30), (93, 40),
        (95, 25), (97, 40), (99, 30), (101, 35), (103, 25), (105, 40), (107, 30), (109, 60), (111, 35), (113, 80),
        (115, 130), (116.5, 180), (118, 320), (119.5, 420), (121, 380), (122.5, 500), (124, 520), (125.5, 480),
        (127, 530), (128.3, 1800), (129, 3200), (130, 3200), (130.8, 1000), (131.5, 150), (133, 60), (135, 80),
        (137, 40), (139, 60)]
FX_L = [(0, 30), (2, 50), (4, 20), (6, 45), (8, 25), (10, 50), (12, 30), (14, 45), (16, 20), (18, 40), (20, 25),
        (22, 35), (24, 20), (26, 40), (28, 30), (30, 80), (31, 260), (32.5, 150), (34, 220), (35.5, 120), (37, 60),
        (38.5, 20), (40, 30), (42, 50), (43.5, 140), (45, 200), (46.5, 120), (48, 250), (49.5, 180), (51, 300),
        (52.5, 240), (54, 370), (55.5, 200), (57, 300), (58.5, 250), (60, 380), (61.5, 420), (63, 560), (64.5, 300),
        (66, 200), (67.5, 80), (69, 50), (71, 70), (73, 40), (75, 60), (77, 30), (79, 50), (81, 30), (83, 40),
        (85, 25), (87, 40), (89, 20), (91, 30), (93, 25), (95, 40), (97, 20), (99, 30), (101, 25), (103, 40),
        (105, 30), (107, 50), (109, 30), (111, 70), (113, 110), (115, 80), (117, 150), (118.5, 300), (120, 800),
        (121.5, 420), (123, 250), (124.5, 150), (126, 80), (128, 50), (130, 30), (132, 50), (134, 25), (136, 40),
        (138, 100), (139.5, 60)]

# ---------------------------------------------------------------- layout
W, H = 1659, 1250
COL_X = [145, 487, 829, 1170]
PANEL_W = 328
ROWS = [(69, 427), (443, 797), (813, 1170)]

BLUE, RED, GREEN, ORANGE = '#0000ff', '#ff0000', '#00e600', '#ffbf00'
FRAME = '#4a4a4a'
TICK_FS = 20

fig = plt.figure(figsize=(W / 100, H / 100), dpi=100)


def panel_rect(col, row):
    top, bot = ROWS[row]
    return [COL_X[col] / W, 1 - bot / H, PANEL_W / W, (bot - top) / H]


def unpack(pairs):
    return [p[0] for p in pairs], [p[1] for p in pairs]


def frame_style(ax):
    for s in ax.spines.values():
        s.set_color(FRAME)
        s.set_linewidth(1.6)
    ax.tick_params(which='both', direction='in', color=FRAME, width=1.2,
                   labelsize=TICK_FS, pad=9)
    ax.tick_params(which='major', length=7)
    ax.tick_params(which='minor', length=4)


def time_axis(ax, show_labels):
    ax.set_xlim(0, 140)
    ax.xaxis.set_major_locator(MultipleLocator(20))
    ax.xaxis.set_minor_locator(MultipleLocator(5))
    ax.xaxis.set_major_formatter(FuncFormatter(
        lambda v, p: f"{v:.0f}" if (round(v) % 40 == 0 and v < 139) else ''))
    ax.tick_params(axis='x', which='both', top=True, bottom=True,
                   labelbottom=show_labels, pad=11)


B_SETS = [(BX_A, BY_A, BZ_A), (BX_D, BY_D, BZ_D), (BX_G, BY_G, BZ_G), (BX_J, BY_J, BZ_J)]
E_SETS = [(E1_B, E2_B, E3_B, E4_B), (E1_E, E2_E, E3_E, E4_E), (E1_H, E2_H, E3_H, E4_H), (E1_K, E2_K, E3_K, E4_K)]
N_SETS = [(NE_C, FX_C), (NE_F, FX_F), (NE_I, FX_I), (NE_L, FX_L)]

end_labels = []   # (axis, text, vertical alignment)

for c in range(4):
    # ---- magnetic field
    ax = fig.add_axes(panel_rect(c, 0))
    frame_style(ax)
    for series, col in zip(B_SETS[c], (BLUE, RED, GREEN)):
        t, v = unpack(series)
        ax.plot(t, v, color=col, lw=2.0, solid_joinstyle='round')
    ax.axhline(0, color='black', lw=1.0, zorder=5)
    ax.set_ylim(-25, 40)
    ax.yaxis.set_major_locator(MultipleLocator(10))
    ax.yaxis.set_minor_locator(MultipleLocator(2))
    ax.yaxis.set_major_formatter(FormatStrFormatter('%d'))
    ax.tick_params(axis='y', which='both', left=True, right=True, labelleft=(c == 0))
    time_axis(ax, False)
    ax.text(0.113, 0.82, LETTERS[c][0], transform=ax.transAxes, fontsize=20,
            fontweight='bold', ha='center', va='baseline')
    if c == 0:
        end_labels.append((ax.yaxis, '40', 'top'))

    # ---- energetic electron flux
    ax = fig.add_axes(panel_rect(c, 1))
    frame_style(ax)
    for series, col in zip(E_SETS[c], (BLUE, RED, GREEN, ORANGE)):
        t, v = unpack(series)
        ax.plot(t, v, color=col, lw=1.4)
    ax.set_yscale('log')
    ax.set_ylim(10, 1e4)
    ax.yaxis.set_major_locator(FixedLocator([10, 100, 1000, 10000]))
    ax.yaxis.set_major_formatter(FixedFormatter(['10', r'$10^2$', r'$10^3$', r'$10^4$']))
    ax.yaxis.set_minor_locator(LogLocator(base=10, subs=range(2, 10)))
    ax.yaxis.set_minor_formatter(NullFormatter())
    ax.tick_params(axis='y', which='both', left=True, right=True, labelleft=(c == 0))
    time_axis(ax, False)
    ax.text(0.113, 0.82, LETTERS[c][1], transform=ax.transAxes, fontsize=20,
            fontweight='bold', ha='center', va='baseline')
    if c == 0:
        end_labels.append((ax.yaxis, r'$10^4$', 'top'))
        end_labels.append((ax.yaxis, '10', 'bottom'))

    # ---- density (left) and >50 keV electron flux (right)
    ax = fig.add_axes(panel_rect(c, 2))
    frame_style(ax)
    t, v = unpack(N_SETS[c][0])
    ax.plot(t, v, color=BLUE, lw=1.9, solid_joinstyle='round')
    ax.set_ylim(0, 3)
    ax.yaxis.set_major_locator(MultipleLocator(0.5))
    ax.yaxis.set_minor_locator(MultipleLocator(0.1))
    ax.yaxis.set_major_formatter(FormatStrFormatter('%.1f'))
    time_axis(ax, True)
    ax.tick_params(axis='y', which='both', left=True, right=False, labelleft=(c == 0))
    ax.text(0.113, 0.82, LETTERS[c][2], transform=ax.transAxes, fontsize=20,
            fontweight='bold', ha='center', va='baseline', zorder=10)

    ax2 = ax.twinx()
    frame_style(ax2)
    t, v = unpack(N_SETS[c][1])
    ax2.plot(t, v, color=RED, lw=1.8, solid_joinstyle='round')
    ax2.set_ylim(0, 3000)
    ax2.yaxis.set_major_locator(MultipleLocator(500))
    ax2.yaxis.set_minor_locator(MultipleLocator(100))
    ax2.yaxis.set_major_formatter(FormatStrFormatter('%d'))
    ax2.tick_params(axis='y', which='both', left=False, right=True, labelright=(c == 3))
    if c == 0:
        end_labels.append((ax.yaxis, '3.0', 'top'))
        end_labels.append((ax.yaxis, '0.0', 'bottom'))
    if c == 3:
        end_labels.append((ax2.yaxis, '3000', 'top'))
        end_labels.append((ax2.yaxis, '0', 'bottom'))

    # ---- spacecraft title
    fig.text((COL_X[c] + 135) / W, 1 - 23 / H, 'Cluster', ha='center', va='center',
             fontsize=22, fontweight='bold')
    fig.text((COL_X[c] + 289) / W, 1 - 23 / H, CLUSTERS[c], ha='center', va='center',
             fontsize=22, fontweight='bold')

# axis titles
fig.text(36 / W, 1 - 248 / H, 'B (nT)', rotation=90, ha='center', va='center', fontsize=18)
fig.text(36 / W, 1 - 620 / H, 'electron flux', rotation=90, ha='center', va='center', fontsize=18)
fig.text(36 / W, 1 - 991 / H, 'Ne (1/cc)', rotation=90, ha='center', va='center', fontsize=18)
fig.text(1619 / W, 1 - 990 / H, 'e flux (>50 keV)', rotation=90, ha='center', va='center', fontsize=18)
fig.text(145 / W, 1 - 1236 / H, 'seconds since 2001-10-01/09:46:40', ha='left', va='center',
         fontsize=21, fontweight='bold')

# colour keys
for name, col, y in zip(B_NAMES, (BLUE, RED, GREEN), (329, 359, 388)):
    fig.text(1528 / W, 1 - y / H, name, color=col, fontsize=20, fontweight='bold',
             ha='left', va='center')
for name, col, y in zip(ENERGY_BANDS + ['keV'], (BLUE, RED, GREEN, ORANGE, 'black'),
                        (639, 669, 698, 729, 759)):
    fig.text(1527 / W, 1 - y / H, name, color=col, fontsize=21, fontweight='bold',
             ha='left', va='center')

# keep the end-of-scale tick labels inside the panel height
fig.canvas.draw()
for axis, txt, va in end_labels:
    for lab in axis.get_ticklabels():
        if lab.get_text() == txt:
            lab.set_verticalalignment(va)

fig.savefig('out.png', dpi=100)
